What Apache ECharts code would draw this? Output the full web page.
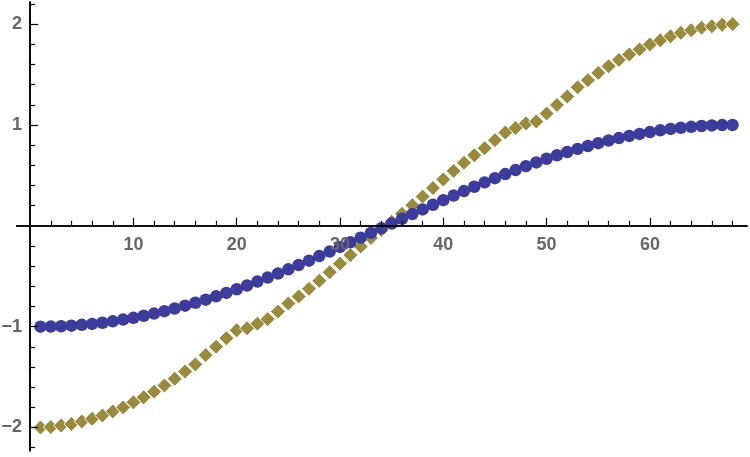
<!DOCTYPE html>
<html>
<head>
<meta charset="utf-8">
<script src="https://cdn.jsdelivr.net/npm/echarts@6/dist/echarts.min.js"></script>
<style>
html,body{margin:0;padding:0;background:#fff;}
#chart{width:750px;height:457px;}
</style>
</head>
<body>
<div id="chart"></div>
<script>
const xValues = [1,2,3,4,5,6,7,8,9,10,11,12,13,14,15,16,17,18,19,20,21,22,23,24,25,26,27,28,29,30,31,32,33,34,35,36,37,38,39,40,41,42,43,44,45,46,47,48,49,50,51,52,53,54,55,56,57,58,59,60,61,62,63,64,65,66,67,68];

const blueValues = [-1.000,-0.999,-0.996,-0.990,-0.982,-0.973,-0.961,-0.947,-0.930,-0.912,
  -0.892,-0.870,-0.846,-0.820,-0.792,-0.763,-0.732,-0.699,-0.665,-0.629,
  -0.592,-0.553,-0.513,-0.473,-0.431,-0.388,-0.345,-0.300,-0.255,-0.209,
  -0.163,-0.117,-0.070,-0.023,0.023,0.070,0.117,0.163,0.209,0.255,
  0.300,0.345,0.388,0.431,0.473,0.513,0.553,0.592,0.629,0.665,
  0.699,0.732,0.763,0.792,0.820,0.846,0.870,0.892,0.912,0.930,
  0.947,0.961,0.973,0.982,0.990,0.996,0.999,1.000];

const goldValues = [-2.000,-1.995,-1.980,-1.965,-1.940,-1.914,-1.880,-1.840,-1.800,-1.750,
  -1.700,-1.645,-1.583,-1.517,-1.445,-1.374,-1.282,-1.199,-1.114,-1.035,
  -1.015,-0.970,-0.925,-0.850,-0.770,-0.700,-0.625,-0.545,-0.460,-0.375,
  -0.290,-0.205,-0.120,-0.040,0.040,0.120,0.205,0.290,0.375,0.460,
  0.545,0.625,0.700,0.770,0.850,0.925,0.970,1.015,1.035,1.114,
  1.199,1.282,1.374,1.445,1.517,1.583,1.645,1.700,1.750,1.800,
  1.840,1.880,1.914,1.940,1.965,1.980,1.995,2.000];

const xMajorTicks = [10,20,30,40,50,60];
const xMinorTicks = [2,4,6,8,12,14,16,18,22,24,26,28,32,34,36,38,42,44,46,48,52,54,56,58,62,64,66,68];
const yMajorTicks = [-2,-1,1,2];
const yMinorTicks = [-2.2,-1.8,-1.6,-1.4,-1.2,-0.8,-0.6,-0.4,-0.2,0.2,0.4,0.6,0.8,1.2,1.4,1.6,1.8,2.2];

const X_MIN = -1.3, X_MAX = 69.4, Y_MIN = -2.23, Y_MAX = 2.22;
const W = 750, H = 457;
const GRID = {left:16.7, right:3, top:2, bottom:6.3};
const plotW = W - GRID.left - GRID.right;
const plotH = H - GRID.top - GRID.bottom;
// place the axes where the other axis is zero (axes cross at the origin)
const xAxisOffset = -plotH * (0 - Y_MIN) / (Y_MAX - Y_MIN);
const yAxisOffset = -plotW * (0 - X_MIN) / (X_MAX - X_MIN);

const labelStyle = {color:'#666666', fontSize:18, fontWeight:'bold', fontFamily:'Liberation Sans, Arial, sans-serif'};
const lineStyle = {color:'#000', width:1.6};

function xAxisDef(ticks, len, showLabel){
  return {type:'value', min:X_MIN, max:X_MAX, position:'bottom', offset:xAxisOffset, z:5,
    axisLine:{show:true, onZero:false, lineStyle:lineStyle},
    axisTick:{show:true, inside:true, length:len, customValues:ticks, lineStyle:{color:'#000', width:1.2}},
    axisLabel:showLabel ? {show:true, customValues:ticks, margin:10, ...labelStyle} : {show:false},
    splitLine:{show:false}};
}
function yAxisDef(ticks, len, showLabel){
  return {type:'value', min:Y_MIN, max:Y_MAX, position:'left', offset:yAxisOffset, z:5,
    axisLine:{show:true, onZero:false, lineStyle:lineStyle},
    axisTick:{show:true, inside:true, length:len, customValues:ticks, lineStyle:{color:'#000', width:1.2}},
    axisLabel:showLabel ? {show:true, customValues:ticks, margin:8, ...labelStyle,
       formatter:function(v){ return v < 0 ? '\u2212' + Math.abs(v) : String(v); }} : {show:false},
    splitLine:{show:false}};
}

const chart = echarts.init(document.getElementById('chart'), null, {renderer:'canvas'});
chart.setOption({
  animation:false,
  backgroundColor:'#ffffff',
  grid:{left:GRID.left, right:GRID.right, top:GRID.top, bottom:GRID.bottom, containLabel:false, outerBoundsMode:'none'},
  xAxis:[ xAxisDef(xMajorTicks, 8, true), xAxisDef(xMinorTicks, 5, false) ],
  yAxis:[ yAxisDef(yMajorTicks, 8, true), yAxisDef(yMinorTicks, 5, false) ],
  series:[
    {type:'scatter', name:'gold', xAxisIndex:0, yAxisIndex:0, z:2,
     symbol:'diamond', symbolSize:[15,15],
     itemStyle:{color:'#9a8a3c', borderColor:'#ffffff', borderWidth:1, opacity:1},
     data:xValues.map((x,i)=>[x, goldValues[i]])},
    {type:'scatter', name:'blue', xAxisIndex:0, yAxisIndex:0, z:3,
     symbol:'circle', symbolSize:12.5,
     itemStyle:{color:'#3c3c9c', opacity:1},
     data:xValues.map((x,i)=>[x, blueValues[i]])}
  ]
});
</script>
</body>
</html>
